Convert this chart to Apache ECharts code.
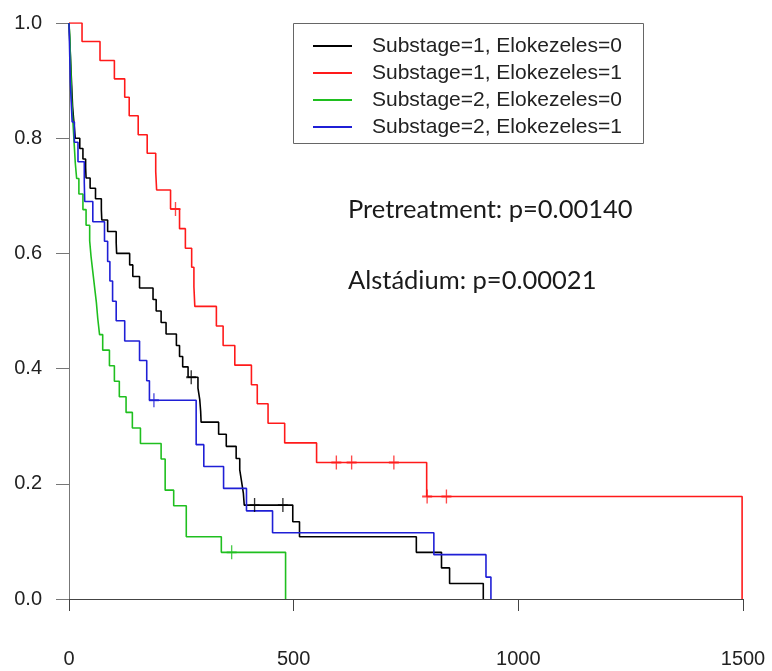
<!DOCTYPE html>
<html>
<head>
<meta charset="utf-8">
<title>Survival by substage and pretreatment</title>
<script src="https://cdn.jsdelivr.net/npm/echarts@6/dist/echarts.min.js"></script>
<style>
  html, body { margin: 0; padding: 0; background: #ffffff; }
  #chart { width: 772px; height: 671px; }
</style>
</head>
<body>
<div id="chart"></div>
<script>
// Kaplan-Meier step curves: event times (days) and survival after each event.
const groupNames = [
  'Substage=1, Elokezeles=0',
  'Substage=1, Elokezeles=1',
  'Substage=2, Elokezeles=0',
  'Substage=2, Elokezeles=1'
];

const s1e0Times = [0, 1, 2, 3, 4, 5, 6, 7, 8, 10, 12, 14, 24, 31, 37, 38, 47, 59, 72, 73, 86, 105, 106, 135, 142, 157, 187, 194, 205, 216, 239, 246, 253, 265, 287, 291, 293, 294, 333, 350, 372, 380, 384, 388, 390, 498, 513, 773, 829, 847, 922];
const s1e0Surv  = [1, 0.982, 0.964, 0.945, 0.927, 0.909, 0.891, 0.873, 0.855, 0.836, 0.818, 0.800, 0.782, 0.764, 0.749, 0.731, 0.713, 0.695, 0.676, 0.658, 0.638, 0.619, 0.600, 0.580, 0.560, 0.540, 0.520, 0.500, 0.480, 0.460, 0.440, 0.421, 0.403, 0.385, 0.366, 0.346, 0.326, 0.307, 0.286, 0.265, 0.244, 0.224, 0.204, 0.184, 0.163, 0.134, 0.108, 0.081, 0.054, 0.027, 0];
const s1e0Censored = [272, 413, 476];

const s1e1Times = [0, 29, 69, 101, 124, 134, 154, 174, 193, 195, 226, 246, 259, 273, 278, 280, 328, 343, 369, 406, 419, 443, 480, 551, 796, 1498];
const s1e1Surv  = [1, 0.968, 0.935, 0.903, 0.871, 0.839, 0.806, 0.774, 0.742, 0.710, 0.677, 0.643, 0.609, 0.576, 0.542, 0.508, 0.474, 0.440, 0.406, 0.372, 0.339, 0.305, 0.271, 0.237, 0.178, 0];
const s1e1Censored = [237, 595, 629, 723, 797, 840];

const s2e0Times = [0, 2, 3, 4, 5, 6, 8, 10, 12, 14, 17, 22, 31, 38, 46, 49, 53, 57, 61, 64, 68, 75, 90, 101, 112, 127, 141, 159, 205, 214, 233, 261, 339, 482];
const s2e0Surv  = [1, 0.973, 0.946, 0.919, 0.892, 0.865, 0.838, 0.811, 0.784, 0.757, 0.730, 0.703, 0.676, 0.649, 0.622, 0.595, 0.568, 0.541, 0.514, 0.487, 0.459, 0.432, 0.405, 0.378, 0.351, 0.324, 0.297, 0.270, 0.243, 0.189, 0.162, 0.108, 0.081, 0];
const s2e0Censored = [362];

const s2e1Times = [0, 1, 2, 3, 5, 7, 12, 20, 34, 35, 53, 79, 86, 91, 97, 105, 124, 157, 173, 179, 283, 300, 344, 395, 453, 812, 928, 939];
const s2e1Surv  = [1, 0.966, 0.931, 0.897, 0.862, 0.828, 0.793, 0.759, 0.724, 0.690, 0.655, 0.621, 0.586, 0.552, 0.517, 0.483, 0.448, 0.414, 0.379, 0.345, 0.268, 0.230, 0.192, 0.153, 0.115, 0.077, 0.038, 0];
const s2e1Censored = [189];

const xTicks = [0, 500, 1000, 1500];
const yTicks = [0, 0.2, 0.4, 0.6, 0.8, 1.0];

const pValueLines = ['Pretreatment: p=0.00140', 'Alstádium: p=0.00021'];

const curveColors = ['#000000', '#ff1a1a', '#1fbf1f', '#1f1fd6'];

const groups = [
  { times: s1e0Times, surv: s1e0Surv, censored: s1e0Censored },
  { times: s1e1Times, surv: s1e1Surv, censored: s1e1Censored },
  { times: s2e0Times, surv: s2e0Surv, censored: s2e0Censored },
  { times: s2e1Times, surv: s2e1Surv, censored: s2e1Censored }
];

// survival level in effect at time t (right-continuous step function)
function survivalAt(times, surv, t) {
  let v = surv[0];
  for (let i = 0; i < times.length; i++) {
    if (times[i] <= t) v = surv[i];
  }
  return v;
}

const series = [];
groups.forEach((g, i) => {
  series.push({
    name: groupNames[i],
    type: 'line',
    step: 'end',
    data: g.times.map((t, k) => [t, g.surv[k]]),
    showSymbol: false,
    symbol: 'none',
    lineStyle: { color: curveColors[i], width: 1.6 },
    itemStyle: { color: curveColors[i] },
    z: 2 + i
  });
});
groups.forEach((g, i) => {
  series.push({
    name: 'censored ' + (i + 1),
    type: 'scatter',
    data: g.censored.map(t => [t, survivalAt(g.times, g.surv, t)]),
    symbol: 'path://M5,0L5,14M0,7L10,7',
    symbolSize: [10, 14],
    itemStyle: { color: 'none', borderColor: curveColors[i], borderWidth: 1.6 },
    z: 6 + i
  });
});

const chart = echarts.init(document.getElementById('chart'), null, { renderer: 'canvas' });

chart.setOption({
  animation: false,
  backgroundColor: '#ffffff',
  grid: { left: 69, right: 29, top: 23, bottom: 72 },
  xAxis: {
    type: 'value',
    min: xTicks[0],
    max: xTicks[xTicks.length - 1],
    interval: xTicks[1] - xTicks[0],
    offset: 23,
    axisLine: { show: true, lineStyle: { color: '#444444', width: 1 } },
    axisTick: { show: true, length: 12, lineStyle: { color: '#444444', width: 1 } },
    axisLabel: {
      fontSize: 20, fontFamily: 'Liberation Sans', color: '#222222', margin: 27,
      formatter: v => String(v)
    },
    splitLine: { show: false }
  },
  yAxis: {
    type: 'value',
    min: yTicks[0],
    max: yTicks[yTicks.length - 1],
    interval: yTicks[1] - yTicks[0],
    axisLine: { show: true, lineStyle: { color: '#777777', width: 1 } },
    axisTick: { show: true, length: 13, lineStyle: { color: '#777777', width: 1 } },
    axisLabel: {
      fontSize: 20, fontFamily: 'Liberation Sans', color: '#222222', margin: 27,
      formatter: v => v.toFixed(1)
    },
    splitLine: { show: false }
  },
  legend: {
    data: groupNames,
    orient: 'vertical',
    left: 313,
    top: 35,
    padding: 0,
    itemWidth: 39,
    itemHeight: 2,
    itemGap: 5,
    icon: 'rect',
    selectedMode: false,
    textStyle: {
      fontSize: 21, fontFamily: 'Liberation Sans', color: '#222222',
      lineHeight: 22, padding: [0, 0, 0, 15]
    }
  },
  graphic: [
    {
      type: 'rect',
      shape: { x: 293.5, y: 23.5, width: 350, height: 120 },
      style: { fill: 'none', stroke: '#666666', lineWidth: 1 },
      silent: true
    },
    {
      type: 'text',
      x: 348, y: 210,
      style: { text: pValueLines[0], fontSize: 25.5, fontFamily: 'Lato', fill: '#1a1a1a', verticalAlign: 'middle' },
      silent: true
    },
    {
      type: 'text',
      x: 348, y: 281,
      style: { text: pValueLines[1], fontSize: 25.5, fontFamily: 'Lato', fill: '#1a1a1a', verticalAlign: 'middle' },
      silent: true
    }
  ],
  series: series
});
</script>
</body>
</html>
